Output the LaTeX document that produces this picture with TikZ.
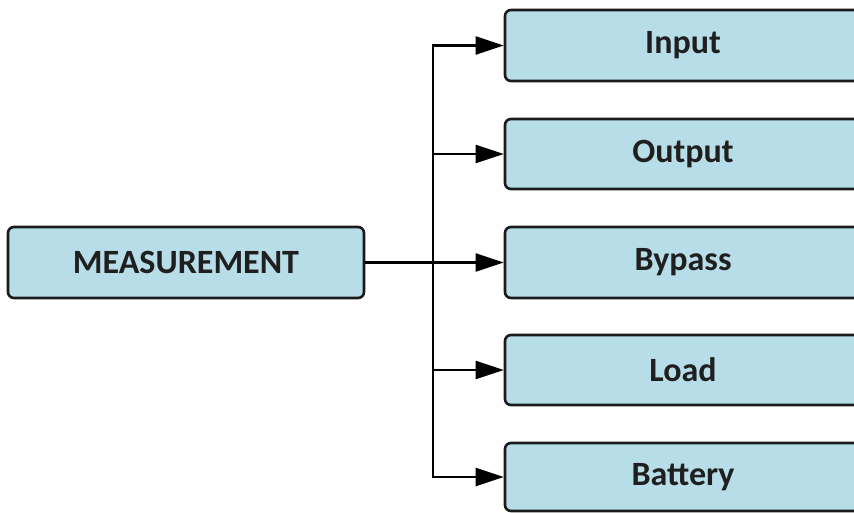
\documentclass[tikz,border=0pt]{standalone}
\usepackage{fontspec}
\setmainfont{Carlito}
\usetikzlibrary{arrows.meta}
\definecolor{boxfill}{HTML}{B7DDE8}
\definecolor{boxline}{HTML}{1A1A1A}
\tikzset{
  blk/.style={draw=boxline, line width=2.6pt, fill=boxfill, rounded corners=6pt, inner sep=0pt,
    font=\bfseries\fontsize{34}{38}\selectfont, text=black!88},
  conn/.style={line width=2.4pt, draw=black},
  arr/.style={conn, -{Triangle[length=28pt,width=18pt]}}
}
\begin{document}
\begin{tikzpicture}[x=1pt,y=-1pt]
\useasboundingbox (0,0) rectangle (854,512);
\clip (0,0) rectangle (854,512);
\node[blk, minimum width=356pt, minimum height=71pt] (m) at (186,262.5) {MEASUREMENT};
\node[blk, minimum width=356pt, minimum height=71pt] (in) at (683,45.5) {Input};
\node[blk, minimum width=356pt, minimum height=70pt] (out) at (683,154) {Output};
\node[blk, minimum width=356pt, minimum height=71pt] (by) at (683,262.5) {Bypass};
\node[blk, minimum width=356pt, minimum height=70pt] (ld) at (683,370) {Load};
\node[blk, minimum width=356pt, minimum height=68pt] (bt) at (683,477) {Battery};
\coordinate (j) at (433,262.5);
\draw[conn] (m.east) -- (j);
\draw[arr] (j) |- (in.west);
\draw[arr] (j) |- (out.west);
\draw[arr] (j) -- (by.west);
\draw[arr] (j) |- (ld.west);
\draw[arr] (j) |- (bt.west);
\end{tikzpicture}
\end{document}
